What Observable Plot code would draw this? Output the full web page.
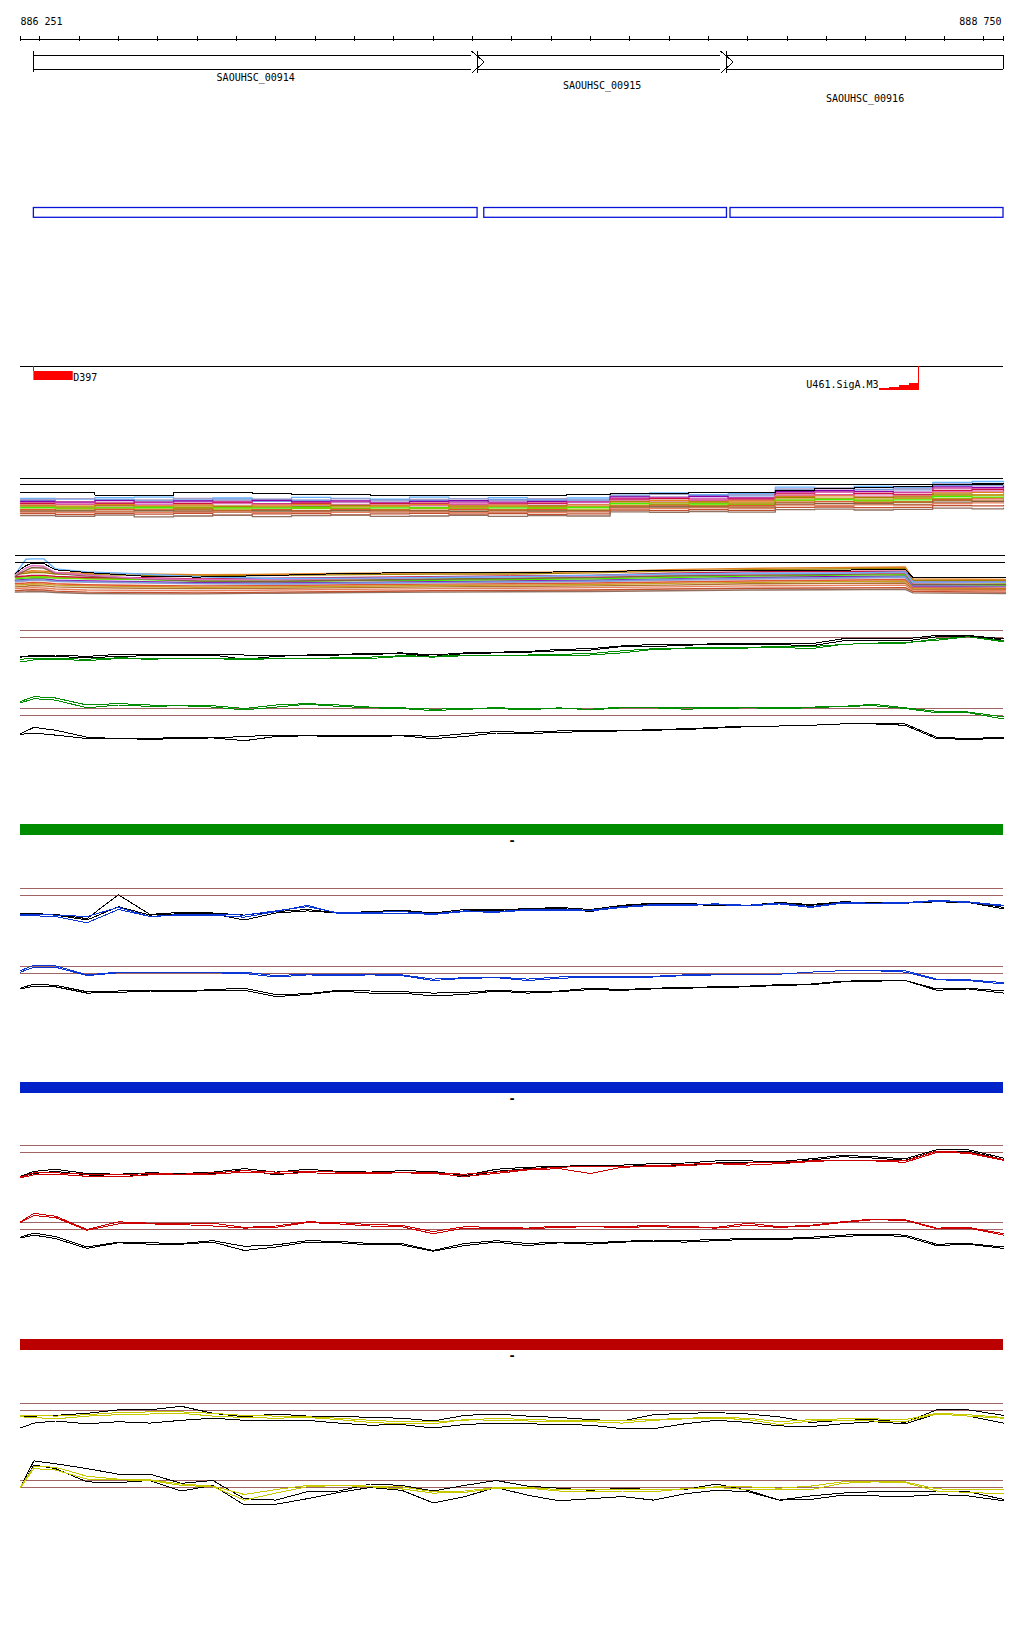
<!DOCTYPE html>
<html><head><meta charset="utf-8">
<script src="https://cdn.jsdelivr.net/npm/d3@7"></script>
<script src="https://cdn.jsdelivr.net/npm/@observablehq/plot@0.6"></script>
<style>
body{margin:0;background:#fff;}
#chart{position:relative;width:1024px;height:1640px;background:#fff;}
</style></head><body><div id="chart"></div>
<script>
// ---------- data ----------
const windowStart = 886251, windowEnd = 888750;
const rulerTicks = [886300,886400,886500,886600,886700,886800,886900,887000,887100,887200,887300,887400,887500,887600,887700,887800,887900,888000,888100,888200,888300,888400,888500,888600,888700];
const geneNames = ["SAOUHSC_00914","SAOUHSC_00915","SAOUHSC_00916"];
const geneStarts = [886285, 887413, 888046];
const geneEnds = [887413, 888046, 888870];
const cdsStarts = [886285, 887430, 888056];
const cdsEnds = [887413, 888047, 888870];
const featNames = ["D397", "U461.SigA.M3"];
const featStarts = [886285, 888435];
const featEnds = [886385, 888534];
const rampStarts = [888435, 888460, 888485, 888510];
const rampScores = [0.15, 0.35, 0.6, 1.0];
const strandLabels = ["-", "-", "-"];

// probe positions for the profile tracks
const pos = [886251,886285,886340,886420,886500,886580,886660,886740,886820,886900,886980,887060,887140,887220,887300,887380,887460,887540,887620,887700,887780,887860,887940,888020,888100,888180,888260,888340,888420,888500,888580,888660,888750];

const g1Black1 = [-3.7,-3.6,-3.5,-3.7,-3.4,-3.5,-3.4,-3.4,-3.5,-3.5,-3.5,-3.4,-3.3,-3.2,-3.5,-3.2,-3.1,-3.0,-2.7,-2.6,-2.2,-2.0,-2.0,-1.9,-1.9,-1.8,-1.9,-1.2,-1.1,-1.2,-0.7,-0.7,-1.2];
const g1Black2 = [-3.8,-3.7,-3.7,-3.9,-3.7,-3.6,-3.5,-3.5,-4.1,-3.7,-3.5,-3.5,-3.4,-3.3,-3.7,-3.3,-3.2,-3.1,-2.9,-2.8,-2.3,-2.3,-2.1,-2.0,-2.0,-2.0,-2.2,-1.5,-1.4,-1.5,-0.9,-0.8,-1.4];
const g1Green1 = [-4.1,-4.0,-4.0,-4.1,-3.9,-4.0,-4.0,-4.0,-4.0,-4.0,-4.0,-3.9,-3.8,-3.6,-3.7,-3.5,-3.5,-3.5,-3.4,-3.3,-2.9,-2.6,-2.5,-2.4,-2.4,-2.3,-2.3,-2.0,-1.8,-1.8,-1.2,-0.9,-1.5];
const g1Green2 = [-4.5,-4.2,-4.1,-4.3,-4.0,-4.1,-4.0,-4.0,-4.2,-4.0,-4.0,-4.0,-4.0,-3.7,-3.8,-3.6,-3.6,-3.5,-3.6,-3.5,-3.2,-2.7,-2.6,-2.5,-2.5,-2.4,-2.6,-2.0,-1.8,-1.7,-1.4,-0.9,-1.6];

const g2Green1 = [1.0,1.7,1.5,0.5,0.7,0.5,0.5,0.4,0.0,0.5,0.7,0.5,0.2,0.1,-0.1,0.0,0.1,0.0,0.0,-0.1,0.2,0.2,0.1,0.1,0.2,0.1,0.2,0.3,0.6,0.1,-0.4,-0.5,-1.2];
const g2Green2 = [0.8,1.4,1.2,0.1,0.5,0.3,0.4,0.2,-0.2,0.2,0.6,0.3,0.1,0.0,-0.3,-0.1,0.0,-0.2,0.1,-0.2,0.1,0.1,-0.1,0.0,0.1,0.0,0.1,0.3,0.4,0.0,-0.6,-0.6,-1.5];
const g2Black1 = [-3.6,-2.7,-3.1,-4.1,-4.3,-4.3,-4.1,-4.2,-4.0,-3.8,-3.8,-3.9,-3.9,-3.8,-4.0,-3.6,-3.3,-3.4,-3.2,-3.2,-3.2,-3.0,-2.9,-2.7,-2.5,-2.5,-2.4,-2.2,-2.1,-2.2,-4.1,-4.3,-4.1];
const g2Black2 = [-3.7,-3.5,-3.8,-4.3,-4.3,-4.4,-4.3,-4.2,-4.6,-4.0,-3.9,-4.0,-4.0,-3.9,-4.3,-4.0,-3.5,-3.6,-3.4,-3.3,-3.2,-3.1,-3.0,-2.8,-2.6,-2.5,-2.4,-2.2,-2.2,-2.4,-4.3,-4.4,-4.3];

const b1Black1 = [-3.6,-3.6,-3.7,-4.3,-0.9,-3.7,-3.4,-3.5,-3.8,-3.3,-3.0,-3.5,-3.3,-3.1,-3.5,-3.0,-3.0,-2.9,-2.7,-3.0,-2.4,-2.1,-2.1,-2.4,-2.4,-2.0,-2.3,-1.9,-2.0,-2.0,-1.8,-1.9,-2.7];
const b1Black2 = [-3.7,-3.7,-3.8,-4.5,-2.6,-3.8,-3.6,-3.6,-4.5,-3.5,-3.2,-3.5,-3.4,-3.2,-3.7,-3.2,-3.1,-3.0,-2.8,-3.3,-2.5,-2.2,-2.3,-2.4,-2.5,-2.1,-2.4,-2.0,-2.1,-2.1,-1.9,-2.0,-2.9];
const b1Blue1 = [-3.7,-3.7,-3.8,-4.0,-2.7,-4.0,-3.7,-3.7,-3.8,-3.2,-2.6,-3.5,-3.4,-3.3,-3.6,-3.2,-3.3,-3.0,-3.0,-3.1,-2.6,-2.3,-2.3,-2.2,-2.4,-2.1,-2.6,-2.0,-2.1,-2.0,-1.7,-1.9,-2.4];
const b1Blue2 = [-3.9,-3.9,-4.0,-4.9,-3.0,-4.0,-3.8,-3.8,-4.1,-3.3,-2.4,-3.6,-3.5,-3.5,-3.7,-3.3,-3.4,-3.1,-3.1,-3.2,-2.7,-2.4,-2.4,-2.3,-2.5,-2.2,-2.7,-2.1,-2.2,-2.1,-1.8,-2.0,-2.5];

const b2Blue1 = [-0.6,0.2,0.1,-1.2,-0.8,-0.8,-0.8,-0.8,-0.8,-1.3,-1.1,-1.2,-1.2,-1.2,-1.8,-1.6,-1.5,-1.8,-1.5,-1.4,-1.4,-1.4,-1.2,-1.2,-1.1,-1.1,-0.8,-0.6,-0.5,-0.6,-1.8,-1.9,-2.3];
const b2Blue2 = [-0.8,-0.1,-0.1,-1.3,-0.9,-0.8,-0.8,-0.9,-1.0,-1.5,-1.2,-1.3,-1.2,-1.3,-2.0,-1.7,-1.6,-2.0,-1.7,-1.5,-1.5,-1.5,-1.3,-1.2,-1.1,-1.1,-0.8,-0.6,-0.6,-0.8,-1.9,-2.0,-2.5];
const b2Black1 = [-3.1,-2.5,-2.7,-3.6,-3.5,-3.4,-3.5,-3.3,-3.1,-4.0,-3.9,-3.4,-3.5,-3.6,-3.8,-3.7,-3.4,-3.6,-3.5,-3.1,-3.3,-3.1,-3.0,-2.9,-2.8,-2.6,-2.5,-2.1,-2.0,-2.0,-3.2,-3.1,-3.5];
const b2Black2 = [-3.2,-2.8,-2.9,-3.8,-3.7,-3.5,-3.6,-3.4,-3.4,-4.3,-4.0,-3.5,-3.8,-3.8,-4.2,-4.0,-3.5,-3.8,-3.6,-3.3,-3.4,-3.2,-3.1,-3.0,-2.9,-2.7,-2.6,-2.2,-2.1,-2.0,-3.4,-3.2,-3.8];

const r1Black1 = [-4.4,-3.7,-3.4,-4.0,-4.1,-3.9,-4.0,-3.8,-3.3,-3.8,-3.4,-3.7,-3.8,-3.6,-3.7,-4.3,-3.4,-3.1,-3.0,-2.8,-2.8,-2.6,-2.5,-2.2,-2.2,-2.3,-1.9,-1.4,-1.6,-1.9,-0.6,-0.6,-1.8];
const r1Black2 = [-4.5,-4.0,-3.7,-4.2,-4.5,-4.1,-4.2,-4.0,-3.5,-4.2,-3.7,-3.8,-3.9,-3.8,-3.9,-4.5,-3.7,-3.3,-3.1,-3.0,-3.0,-2.8,-2.8,-2.5,-2.4,-2.5,-2.1,-1.6,-1.8,-2.1,-0.8,-0.8,-2.0];
const r1Red1 = [-4.5,-3.9,-3.9,-4.1,-4.2,-4.0,-4.1,-3.9,-3.6,-3.8,-3.7,-3.8,-3.8,-3.8,-3.9,-4.1,-3.8,-3.4,-3.1,-3.0,-3.0,-2.9,-2.7,-2.5,-2.5,-2.4,-2.2,-2.1,-2.1,-2.2,-0.8,-1.0,-2.0];
const r1Red2 = [-4.6,-4.2,-4.1,-4.4,-4.5,-4.2,-4.2,-4.1,-3.8,-4.0,-3.9,-4.0,-4.0,-3.9,-4.0,-4.4,-4.0,-3.5,-3.3,-4.0,-3.1,-3.0,-2.9,-2.6,-2.8,-2.6,-2.3,-2.1,-2.2,-2.4,-1.0,-1.1,-2.1];

const r2Red1 = [0.1,1.3,0.9,-1.0,0.1,-0.1,-0.2,-0.1,-0.7,-0.5,0.1,0.0,-0.3,-0.4,-1.3,-0.6,-0.7,-0.8,-0.5,-0.5,-0.6,-0.4,-0.6,-0.7,-0.1,-0.6,-0.4,0.1,0.5,0.4,-0.8,-0.7,-1.6];
const r2Red2 = [0.0,1.0,0.7,-1.1,-0.2,-0.2,-0.3,-0.5,-0.8,-0.7,0.0,-0.2,-0.5,-0.6,-1.6,-0.8,-0.8,-0.9,-0.7,-0.6,-0.7,-0.6,-0.7,-0.8,-0.4,-0.7,-0.5,0.0,0.4,0.3,-0.9,-0.8,-1.8];
const r2Black1 = [-2.1,-1.5,-2.0,-3.5,-2.8,-2.9,-3.0,-2.6,-3.4,-3.2,-2.6,-2.7,-3.0,-3.0,-4.0,-3.0,-2.6,-3.0,-2.8,-2.9,-2.7,-2.5,-2.6,-2.4,-2.3,-2.3,-2.1,-1.8,-1.7,-1.8,-3.1,-3.0,-3.5];
const r2Black2 = [-2.2,-1.8,-2.3,-3.7,-2.9,-3.1,-3.1,-2.8,-4.0,-3.5,-2.8,-2.9,-3.2,-3.2,-4.1,-3.3,-2.8,-3.3,-2.9,-3.1,-2.8,-2.7,-2.8,-2.6,-2.4,-2.4,-2.3,-2.0,-1.8,-2.0,-3.3,-3.1,-3.7];

const y1BlackU = [-1.9,-1.8,-1.7,-1.4,-0.9,-0.9,-0.4,-1.4,-1.9,-1.5,-1.8,-1.8,-2.0,-2.1,-2.5,-1.7,-1.5,-1.8,-2.0,-2.3,-2.5,-1.6,-1.4,-1.3,-1.5,-1.9,-2.7,-2.4,-2.3,-2.7,-0.9,-0.9,-1.7];
const y1BlackL = [-3.5,-2.8,-2.5,-2.9,-2.6,-2.8,-2.4,-2.1,-2.4,-2.4,-2.4,-2.8,-3.1,-3.0,-3.5,-3.0,-2.8,-2.9,-3.0,-3.1,-3.6,-3.6,-2.9,-2.4,-2.7,-3.2,-3.3,-2.9,-2.6,-2.9,-1.5,-1.8,-2.8];
const y1Yel1 = [-1.7,-1.7,-1.8,-1.6,-1.3,-1.2,-1.2,-1.4,-1.7,-1.8,-1.9,-2.1,-2.4,-2.6,-2.6,-2.4,-2.1,-2.3,-2.4,-2.5,-2.4,-2.3,-2.1,-2.0,-2.1,-2.6,-2.3,-2.2,-2.2,-2.3,-1.4,-1.6,-2.0];
const y1Yel2 = [-1.9,-2.0,-2.2,-1.8,-1.6,-1.5,-1.4,-1.8,-2.0,-2.1,-2.0,-2.3,-2.7,-2.9,-2.9,-2.3,-2.4,-2.5,-2.6,-2.6,-2.8,-2.4,-2.2,-2.1,-2.3,-3.0,-2.5,-2.4,-2.5,-2.6,-1.5,-1.8,-2.1];

const y2BlackU = [-0.9,2.8,2.4,1.7,0.9,0.9,-0.4,0.0,-2.6,-2.8,-1.6,-1.5,-0.5,-0.7,-1.5,-0.7,0.0,-0.8,-1.1,-1.4,-1.1,-1.3,-1.3,-0.5,-1.4,-2.8,-2.2,-1.8,-1.6,-1.6,-1.5,-1.6,-2.7];
const y2BlackL = [-1.0,2.2,1.7,-0.2,-0.3,0.0,-1.5,-0.7,-3.5,-3.4,-2.6,-1.7,-1.0,-1.4,-3.2,-2.3,-1.0,-2.1,-2.9,-2.6,-2.3,-2.8,-1.9,-1.4,-1.6,-2.8,-2.7,-2.1,-2.2,-2.3,-2.0,-2.2,-2.9];
const y2Yel1 = [-0.9,2.0,1.9,0.6,0.2,0.1,-0.5,-0.8,-2.0,-1.3,-0.7,-0.7,-0.8,-0.9,-1.6,-1.5,-1.0,-1.0,-1.3,-1.3,-1.3,-1.3,-1.2,-0.9,-0.9,-1.1,-0.8,-0.2,-0.1,-0.2,-1.2,-1.3,-1.3];
const y2Yel2 = [-1.0,1.7,1.5,0.2,0.1,0.0,-0.7,-0.9,-2.8,-1.8,-0.9,-0.7,-0.9,-1.2,-1.8,-1.7,-1.1,-1.1,-1.5,-1.5,-1.5,-1.6,-1.2,-1.0,-1.3,-1.3,-1.3,-0.4,-0.2,-0.3,-1.5,-1.7,-1.9];

// dense multi-sample track 1 (step profiles)
const densePos1 = [886251,886340,886440,886540,886640,886740,886840,886940,887040,887140,887240,887340,887440,887540,887640,887750,887850,887950,888050,888170,888270,888370,888470,888570,888670,888750];
const dense1Black = [-4.8,-4.8,-5.5,-5.5,-4.6,-4.6,-5.1,-5.2,-5.2,-5.5,-5.6,-5.6,-5.5,-5.5,-5.3,-4.9,-4.9,-4.8,-4.7,-3.9,-3.4,-3.0,-2.6,-2.0,-1.7,-1.7];
const dense1Colors = ["#66b3ff","#a8a0c8","#7799dd","#8800aa","#d040a0","#cc1040","#e070c0","#e08020","#a08000","#c8a020","#44ee00","#88cc00","#e05533","#b07030","#806040","#e88060","#c05030","#907060"];
const dense1Values = [
 [-6.6,-6.9,-6.4,-6.2,-6.8,-6.5,-7.0,-6.3,-6.6,-6.9,-6.2,-6.7,-6.4,-7.0,-6.5,-5.1,-4.8,-5.4,-5.0,-2.9,-3.3,-2.6,-3.0,-1.3,-1.0,-1.2],
 [-7.0,-6.7,-7.3,-7.1,-6.6,-7.4,-6.9,-7.2,-6.8,-7.5,-7.0,-6.8,-7.3,-6.7,-7.1,-5.6,-5.3,-5.8,-5.4,-3.5,-3.1,-3.7,-3.3,-1.8,-2.1,-1.6],
 [-7.4,-7.7,-7.0,-7.5,-7.2,-6.9,-7.6,-7.3,-7.8,-7.1,-7.4,-7.7,-7.0,-7.5,-7.2,-5.9,-6.2,-5.6,-5.8,-3.9,-4.2,-3.6,-3.8,-2.4,-2.2,-2.6],
 [-7.6,-7.9,-7.4,-8.0,-7.5,-7.8,-7.3,-7.7,-7.5,-8.1,-7.6,-7.4,-7.9,-7.6,-7.8,-6.1,-6.4,-6.0,-6.5,-4.4,-4.0,-4.3,-4.6,-2.8,-3.0,-2.6],
 [-8.1,-7.8,-8.3,-7.9,-8.2,-7.7,-8.4,-8.0,-7.8,-8.2,-8.5,-7.9,-8.1,-8.3,-7.8,-6.6,-6.3,-6.8,-6.5,-4.8,-4.5,-5.0,-4.6,-3.2,-3.5,-3.3],
 [-8.3,-8.6,-8.2,-8.7,-8.4,-8.1,-8.6,-8.3,-8.8,-8.4,-8.2,-8.6,-8.5,-8.2,-8.7,-7.0,-6.7,-7.2,-6.9,-5.1,-5.4,-5.0,-5.3,-4.0,-3.7,-4.1],
 [-8.8,-8.5,-9.0,-8.6,-8.9,-8.4,-8.7,-9.1,-8.6,-8.8,-9.0,-8.5,-8.7,-8.9,-8.6,-7.2,-7.5,-7.1,-7.4,-5.7,-5.5,-5.9,-5.6,-4.4,-4.2,-4.5],
 [-8.9,-9.2,-8.7,-9.1,-8.8,-9.3,-8.9,-8.6,-9.2,-9.0,-8.7,-9.1,-8.9,-9.3,-8.8,-7.6,-7.3,-7.7,-7.5,-6.0,-5.8,-6.2,-5.9,-4.8,-4.6,-4.9],
 [-9.2,-9.5,-9.1,-9.4,-9.6,-9.2,-9.5,-9.3,-9.0,-9.4,-9.6,-9.2,-9.4,-9.1,-9.5,-7.8,-8.1,-7.9,-8.2,-6.3,-6.6,-6.4,-6.2,-5.2,-5.5,-5.3],
 [-9.6,-9.3,-9.8,-9.5,-9.2,-9.7,-9.4,-9.8,-9.5,-9.3,-9.7,-9.6,-9.2,-9.6,-9.4,-8.2,-8.0,-8.3,-8.1,-6.8,-6.6,-6.9,-6.7,-5.7,-5.5,-5.8],
 [-9.7,-10.0,-9.8,-9.6,-10.1,-9.8,-9.9,-9.6,-10.0,-9.8,-9.7,-10.1,-9.8,-9.9,-9.6,-8.4,-8.6,-8.5,-8.7,-7.2,-7.0,-7.3,-7.1,-6.0,-6.2,-6.1],
 [-10.2,-10.0,-10.3,-10.1,-9.9,-10.2,-10.4,-10.0,-10.2,-10.3,-10.0,-10.1,-10.3,-10.0,-10.2,-8.9,-8.7,-9.0,-8.8,-7.4,-7.6,-7.5,-7.7,-6.6,-6.4,-6.5],
 [-10.4,-10.6,-10.3,-10.5,-10.2,-10.6,-10.4,-10.7,-10.3,-10.5,-10.6,-10.3,-10.5,-10.4,-10.6,-9.1,-8.9,-9.2,-9.0,-7.9,-7.7,-8.0,-7.8,-7.0,-6.8,-6.9],
 [-10.8,-10.6,-10.9,-10.7,-10.5,-10.8,-10.6,-10.9,-10.7,-10.6,-10.8,-10.9,-10.6,-10.8,-10.7,-9.4,-9.2,-9.3,-9.5,-8.1,-8.3,-8.2,-8.0,-7.3,-7.5,-7.4],
 [-11.0,-10.9,-11.1,-10.8,-11.0,-11.2,-10.9,-11.0,-10.8,-11.1,-10.9,-11.0,-11.2,-10.9,-11.0,-9.7,-9.5,-9.6,-9.8,-8.6,-8.4,-8.5,-8.7,-7.9,-7.7,-7.8],
 [-11.2,-11.3,-11.1,-11.3,-11.2,-11.1,-11.4,-11.2,-11.3,-11.1,-11.2,-11.4,-11.2,-11.3,-11.1,-9.9,-10.0,-9.8,-9.9,-8.9,-9.0,-8.8,-8.9,-8.3,-8.1,-8.2],
 [-11.7,-12.0,-11.7,-11.9,-11.6,-12.2,-11.8,-11.7,-12.1,-11.8,-11.6,-11.9,-11.7,-12.0,-11.8,-10.5,-10.7,-10.4,-10.6,-9.6,-9.5,-9.7,-9.6,-9.0,-9.1,-9.0],
 [-12.4,-12.6,-12.2,-12.8,-12.5,-12.3,-12.7,-12.4,-12.2,-12.6,-12.5,-12.3,-12.6,-12.4,-12.5,-11.1,-11.3,-11.0,-11.2,-10.4,-10.2,-10.5,-10.3,-9.9,-10.1,-9.9]
];

// dense multi-sample track 2
const densePos2 = [886238,886265,886280,886310,886340,886420,886560,886700,886900,887100,887300,887500,887700,887900,888100,888300,888500,888520,888755];
const dense2Black = [-5.0,-2.8,-2.2,-2.2,-4.0,-4.8,-5.8,-6.1,-5.6,-5.0,-4.8,-4.8,-4.5,-4.2,-4.2,-4.2,-3.8,-6.3,-6.3];
const dense2Colors = ["#907060","#c05030","#e88060","#b07030","#c8a020","#e05533","#a8a0c8","#8800aa","#7799dd","#44ee00","#88cc00","#cc1040","#a08000","#e08020","#806040","#e070c0","#66b3ff"];
const dense2Values = [
 [-10.4,-10.3,-10.2,-10.3,-10.5,-10.8,-10.9,-10.9,-10.7,-10.5,-10.4,-10.3,-10.2,-10.0,-9.8,-9.7,-9.6,-10.6,-10.8],
 [-10.0,-9.8,-9.7,-9.8,-10.1,-10.4,-10.5,-10.6,-10.4,-10.2,-10.0,-9.9,-9.8,-9.5,-9.3,-9.2,-9.1,-10.2,-10.4],
 [-9.4,-9.2,-9.1,-9.2,-9.5,-9.8,-9.9,-10.0,-9.8,-9.6,-9.4,-9.3,-9.1,-8.9,-8.6,-8.5,-8.4,-9.8,-10.0],
 [-8.9,-8.7,-8.5,-8.6,-8.9,-9.1,-9.3,-9.4,-9.3,-9.1,-8.9,-8.8,-8.6,-8.4,-8.0,-7.9,-7.8,-9.5,-9.6],
 [-8.4,-8.2,-8.0,-8.1,-8.4,-8.6,-8.8,-9.0,-8.9,-8.7,-8.5,-8.4,-8.2,-7.9,-7.6,-7.4,-7.2,-9.2,-9.4],
 [-8.0,-7.8,-7.6,-7.7,-8.0,-8.3,-8.5,-8.6,-8.5,-8.3,-8.1,-8.0,-7.8,-7.5,-7.2,-7.0,-6.8,-9.0,-9.2],
 [-7.5,-7.2,-7.0,-7.1,-7.4,-7.6,-7.8,-8.0,-8.1,-7.9,-7.7,-7.6,-7.4,-7.0,-6.7,-6.5,-6.2,-8.8,-8.9],
 [-7.0,-6.8,-6.6,-6.6,-7.0,-7.2,-7.4,-7.7,-7.8,-7.6,-7.4,-7.2,-7.0,-6.6,-6.2,-6.0,-5.8,-8.6,-8.6],
 [-7.2,-7.0,-6.9,-6.9,-7.2,-7.4,-7.6,-7.9,-8.0,-7.8,-7.6,-7.4,-7.2,-6.8,-6.4,-6.3,-6.0,-8.4,-8.5],
 [-6.6,-6.4,-6.3,-6.2,-6.4,-6.6,-6.8,-7.2,-7.4,-7.1,-7.0,-6.8,-6.6,-6.2,-5.8,-5.6,-5.4,-8.0,-8.4],
 [-6.3,-6.0,-5.9,-6.0,-6.2,-6.5,-6.6,-6.9,-6.9,-6.8,-6.6,-6.4,-6.2,-5.7,-5.3,-5.1,-5.0,-7.6,-7.8],
 [-6.0,-5.8,-5.6,-5.6,-5.9,-6.2,-6.3,-6.6,-6.4,-6.2,-6.0,-5.8,-5.6,-5.0,-4.6,-4.5,-4.4,-7.2,-7.4],
 [-5.3,-5.0,-4.8,-4.8,-5.2,-5.4,-5.6,-5.8,-5.6,-5.4,-5.2,-5.2,-4.9,-4.4,-4.0,-3.8,-3.6,-7.0,-7.0],
 [-4.9,-4.6,-4.3,-4.4,-4.8,-5.0,-5.2,-5.4,-5.3,-5.0,-4.9,-4.8,-4.6,-4.0,-3.6,-3.4,-3.2,-6.6,-6.8],
 [-5.8,-4.2,-3.4,-3.5,-5.0,-5.8,-6.6,-7.2,-7.3,-7.0,-6.7,-6.5,-6.2,-5.8,-5.5,-5.4,-5.0,-8.2,-8.2],
 [-5.5,-3.5,-2.8,-3.0,-4.8,-5.5,-6.5,-6.8,-6.8,-6.6,-6.2,-6.0,-5.8,-5.4,-5.2,-5.0,-4.8,-7.8,-7.6],
 [-5.2,-1.0,-0.9,-0.9,-3.8,-4.6,-5.2,-6.0,-6.5,-6.4,-6.2,-6.0,-5.6,-5.2,-5.0,-5.0,-4.6,-7.5,-7.5]
];

// ---------- drawing ----------
const mono = "DejaVu Sans Mono, monospace";
const chart = document.getElementById("chart");
const fmt = d3.formatLocale({decimal: ".", thousands: " ", grouping: [3], currency: ["", ""]}).format(",");
const base = {width: 1024, marginLeft: 20, marginRight: 21, marginTop: 0, marginBottom: 0,
  style: {background: "transparent", overflow: "visible"}};
const X = {domain: [windowStart, windowEnd], axis: null};
const crisp = {shapeRendering: "crispEdges"};
function place(svg, top) {
  svg.style.position = "absolute"; svg.style.left = "0px"; svg.style.top = top + "px";
  chart.appendChild(svg);
}
const pts = (xs, vals) => xs.map((x, i) => ({x, y: vals[i]})).filter(d => d.y != null);

// top: ruler, genes, CDS boxes, features
const genes = geneNames.map((name, i) => ({name, start: geneStarts[i], end: geneEnds[i]}));
const clipEnd = d => Math.min(d.end, windowEnd);
const endsInView = genes.filter(d => d.end <= windowEnd);
const clipped = genes.filter(d => d.end > windowEnd);
const labelBaselines = [80, 88.5, 101];
const arrowBack = 14.2, arrowTip = 17;   // chevron half-widths in bp
const edgeEnd = d => d.end <= windowEnd ? d.end - arrowBack : windowEnd;
const chevrons = endsInView.flatMap(d => [
  {g: d.name, x: d.end - arrowBack, y: 51}, {g: d.name, x: d.end + arrowTip, y: 61.5}, {g: d.name, x: d.end - arrowBack, y: 72.3}]);
const cds = cdsStarts.map((s, i) => ({start: s, end: cdsEnds[i]}));
const feats = featNames.map((name, i) => ({name, start: featStarts[i], end: featEnds[i]}));
const ramp = rampStarts.map((s, i) => ({start: s, end: i + 1 < rampStarts.length ? rampStarts[i + 1] : featEnds[1], score: rampScores[i]}));
const red = "#ff0000";

place(Plot.plot({...base, height: 400, x: X, y: {domain: [0, 400], range: [0, 400], axis: null},
  marks: [
    Plot.text([windowStart], {x: d => d, y: 24, text: d => fmt(d), textAnchor: "start", lineAnchor: "bottom", fontFamily: mono, fontSize: 10}),
    Plot.text([windowEnd], {x: d => d, y: 24, text: d => fmt(d), textAnchor: "end", dx: -2, lineAnchor: "bottom", fontFamily: mono, fontSize: 10}),
    Plot.ruleY([38.5], {stroke: "black", ...crisp}),
    Plot.ruleX([windowStart, ...rulerTicks, windowEnd], {y1: 36, y2: 41, stroke: "black", ...crisp}),
    Plot.ruleY(genes, {y: 55, x1: "start", x2: edgeEnd, stroke: "black", ...crisp}),
    Plot.ruleY(genes, {y: 68.5, x1: "start", x2: edgeEnd, stroke: "black", ...crisp}),
    Plot.ruleX(clipped, {x: clipEnd, y1: 55, y2: 68.5, stroke: "black", ...crisp}),
    Plot.line(chevrons, {x: "x", y: "y", z: "g", stroke: "black", strokeWidth: 1, ...crisp}),
    Plot.ruleX(genes, {x: "start", y1: 50.5, y2: 72, stroke: "black", ...crisp}),
    Plot.ruleX(endsInView, {x: "end", y1: 50.5, y2: 73, stroke: "black", ...crisp}),
    Plot.text(genes, {x: d => (d.start + clipEnd(d)) / 2, y: (d, i) => labelBaselines[i], text: "name", lineAnchor: "bottom", fontFamily: mono, fontSize: 10}),
    Plot.rect(cds, {x1: "start", x2: clipEnd, y1: 207.5, y2: 217.3, fill: "none", stroke: "#0a14d8", strokeWidth: 1.3}),
    Plot.ruleY([366], {stroke: "black", ...crisp}),
    Plot.rect([feats[0]], {x1: "start", x2: "end", y1: 371, y2: 380, fill: red}),
    Plot.ruleX([feats[0]], {x: "start", y1: 366, y2: 371, stroke: red, ...crisp}),
    Plot.text([feats[0]], {x: "end", y: 380, text: "name", textAnchor: "start", lineAnchor: "bottom", fontFamily: mono, fontSize: 10}),
    Plot.rect(ramp, {x1: "start", x2: "end", y1: 389.5, y2: d => 389.5 - 6.8 * d.score, fill: red, ...crisp}),
    Plot.ruleX([feats[1]], {x: "end", y1: 366, y2: 389.5, stroke: red, ...crisp}),
    Plot.text([feats[1]], {x: "start", y: 387.5, text: "name", textAnchor: "end", dx: -1, lineAnchor: "bottom", fontFamily: mono, fontSize: 10})
  ]}), 0);

// dense track 1 (3 px per unit, reference lines at 0 and -2)
place(Plot.plot({...base, height: 48, x: X, y: {domain: [-14, 2], axis: null},
  marks: [
    ...dense1Values.map((vals, k) => Plot.line(pts(densePos1, vals), {x: "x", y: "y", stroke: dense1Colors[k], strokeWidth: 1.3, curve: "step-after"})),
    Plot.line(pts(densePos1, dense1Black), {x: "x", y: "y", stroke: "black", strokeWidth: 1, curve: "step-after", ...crisp}),
    Plot.ruleY([0, -2], {stroke: "black", ...crisp})
  ]}), 478.3 - 6);

// dense track 2 (3.5 px per unit)
place(Plot.plot({...base, height: 47.25, x: X, y: {domain: [-12, 1.5], axis: null},
  marks: [
    ...dense2Values.map((vals, k) => Plot.line(pts(densePos2, vals), {x: "x", y: "y", stroke: dense2Colors[k], strokeWidth: 1.4})),
    Plot.line(pts(densePos2, dense2Black), {x: "x", y: "y", stroke: "black", strokeWidth: 1, ...crisp}),
    Plot.ruleY([0, -2], {x1: 886238, x2: 888755, stroke: "black", ...crisp})
  ]}), 555.3 - 5.25);

// profile panels (7 px per unit, thresholds at 0 and -1)
const brown = "#a06464", green = "#008c00", blue = "#0a36d6", redLine = "#cc0000", yellow = "#c8c800";
const thresholds = [0, -1];
function profile(brownTop, series) {
  place(Plot.plot({...base, height: 63, x: X, y: {domain: [-6, 3], axis: null},
    marks: [
      Plot.ruleY(thresholds, {stroke: brown, ...crisp}),
      ...series.map(([vals, color]) => Plot.line(pts(pos, vals), {x: "x", y: "y", stroke: color, strokeWidth: 1, ...crisp}))
    ]}), brownTop - 21);
}
function strandBar(top, color, label) {
  const bar = [{start: windowStart, end: windowEnd, strand: label}];
  place(Plot.plot({...base, height: 22, x: X, y: {domain: [-1, 1], axis: null},
    marks: [
      Plot.rect(bar, {x1: "start", x2: "end", y1: 0, y2: 1, fill: color, ...crisp}),
      Plot.text(bar, {x: d => (d.start + d.end) / 2, y: -0.55, text: "strand", fontFamily: mono, fontSize: 12, fontWeight: "bold"})
    ]}), top);
}

profile(630.3, [[g1Black1, "black"], [g1Black2, "black"], [g1Green1, green], [g1Green2, green]]);
profile(708.3, [[g2Black1, "black"], [g2Black2, "black"], [g2Green1, green], [g2Green2, green]]);
strandBar(824, "#008c00", strandLabels[0]);
profile(888.3, [[b1Black1, "black"], [b1Black2, "black"], [b1Blue1, blue], [b1Blue2, blue]]);
profile(965.8, [[b2Black1, "black"], [b2Black2, "black"], [b2Blue1, blue], [b2Blue2, blue]]);
strandBar(1082, "#0022c8", strandLabels[1]);
profile(1145.3, [[r1Black1, "black"], [r1Black2, "black"], [r1Red1, redLine], [r1Red2, redLine]]);
profile(1222.3, [[r2Black1, "black"], [r2Black2, "black"], [r2Red1, redLine], [r2Red2, redLine]]);
strandBar(1339, "#bb0000", strandLabels[2]);
profile(1403.3, [[y1BlackU, "black"], [y1BlackL, "black"], [y1Yel1, yellow], [y1Yel2, yellow]]);
profile(1480.3, [[y2BlackU, "black"], [y2BlackL, "black"], [y2Yel1, yellow], [y2Yel2, yellow]]);
</script></body></html>
